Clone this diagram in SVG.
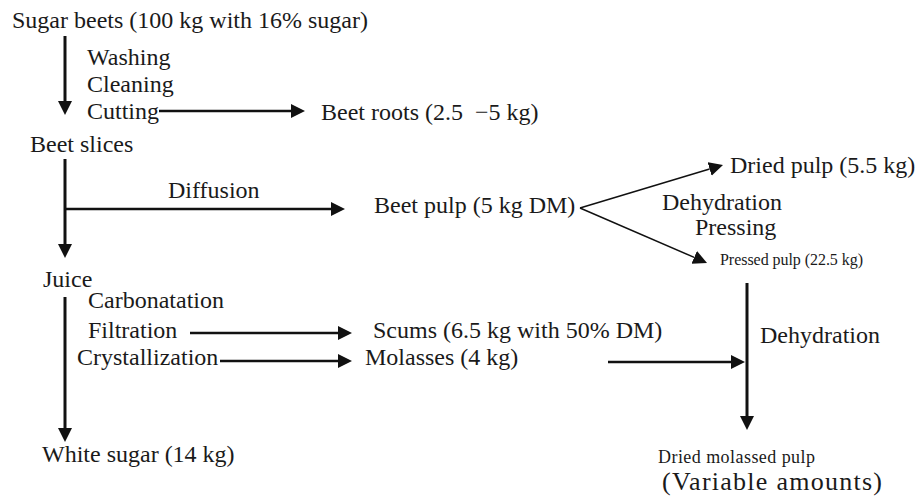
<svg xmlns="http://www.w3.org/2000/svg" width="917" height="498" viewBox="0 0 917 498">
<style>
.t text{font-size:24px;fill:#1a1a1a}
.t text.sm{font-size:16px}
.t text.md{font-size:18px}
.t text.lg{font-size:26px}
.ln{stroke:#111;fill:none}
.v{stroke-width:3}
.h{stroke-width:2.4}
.b{stroke-width:1.5}
</style>
<defs>
<marker id="ah" markerUnits="userSpaceOnUse" markerWidth="15" markerHeight="15" refX="0" refY="7" orient="auto" viewBox="0 0 15 15">
<path d="M0,0 L14,7 L0,14 z" fill="#111"/>
</marker>
</defs>
<rect width="917" height="498" fill="#fff"/>
<g id="connectors">
<line class="ln v" x1="65" y1="36" x2="65" y2="101" marker-end="url(#ah)"/>
<line class="ln v" x1="65" y1="159" x2="65" y2="244" marker-end="url(#ah)"/>
<line class="ln v" x1="65" y1="297" x2="65" y2="428" marker-end="url(#ah)"/>
<line class="ln v" x1="747" y1="283" x2="747" y2="416" marker-end="url(#ah)"/>
<line class="ln h" x1="159" y1="111" x2="291" y2="111" marker-end="url(#ah)"/>
<line class="ln h" x1="65" y1="209" x2="331" y2="209" marker-end="url(#ah)"/>
<line class="ln h" x1="190" y1="333" x2="338" y2="333" marker-end="url(#ah)"/>
<line class="ln h" x1="220" y1="361" x2="338" y2="361" marker-end="url(#ah)"/>
<line class="ln h" x1="608" y1="362" x2="731" y2="362" marker-end="url(#ah)"/>
<line class="ln b" x1="580" y1="208" x2="709.6" y2="169" marker-end="url(#ah)"/>
<line class="ln b" x1="580" y1="208" x2="694.2" y2="257.4" marker-end="url(#ah)"/>
</g>
<g class="t" font-family="'Liberation Serif', 'DejaVu Serif', serif">
<g id="sugar-beets"><text x="12" y="28">Sugar beets (100 kg with 16% sugar)</text></g>
<g id="washing"><text x="87" y="65">Washing</text></g>
<g id="cleaning"><text x="87" y="92">Cleaning</text></g>
<g id="cutting"><text x="87" y="119">Cutting</text></g>
<g id="beet-roots"><text x="321" y="120">Beet roots (2.5 &#160;−5 kg)</text></g>
<g id="beet-slices"><text x="30" y="152">Beet slices</text></g>
<g id="diffusion"><text x="168" y="198">Diffusion</text></g>
<g id="beet-pulp"><text x="374" y="213">Beet pulp (5 kg DM)</text></g>
<g id="dried-pulp"><text x="730" y="173">Dried pulp (5.5 kg)</text></g>
<g id="dehydration-pressing"><text x="662" y="210">Dehydration</text><text x="695" y="235">Pressing</text></g>
<g id="pressed-pulp"><text class="sm" x="720" y="265" textLength="143" lengthAdjust="spacing">Pressed pulp (22.5 kg)</text></g>
<g id="juice"><text x="43" y="287">Juice</text></g>
<g id="carbonatation"><text x="88" y="308">Carbonatation</text></g>
<g id="filtration"><text x="88" y="338">Filtration</text></g>
<g id="scums"><text x="373" y="338">Scums (6.5 kg with 50% DM)</text></g>
<g id="crystallization"><text x="77" y="365">Crystallization</text></g>
<g id="molasses"><text x="365" y="365">Molasses (4 kg)</text></g>
<g id="dehydration"><text x="760" y="343">Dehydration</text></g>
<g id="white-sugar"><text x="42" y="462">White sugar (14 kg)</text></g>
<g id="dried-molassed-pulp"><text class="md" x="658" y="463" textLength="157" lengthAdjust="spacing">Dried molassed pulp</text><text class="lg" x="662" y="490" textLength="220" lengthAdjust="spacing">(Variable amounts)</text></g>
</g>
</svg>
